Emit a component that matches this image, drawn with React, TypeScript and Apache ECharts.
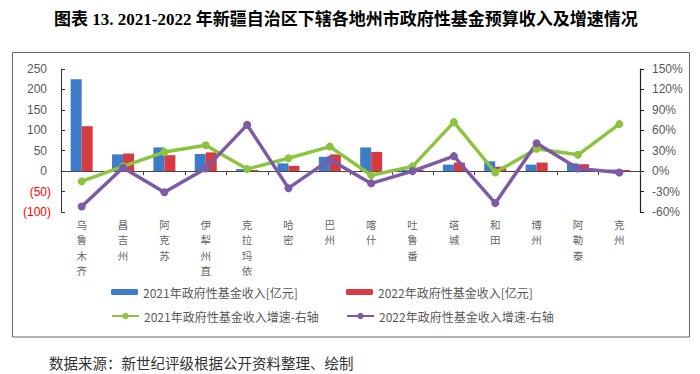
import React, { useEffect, useRef } from "react";
import * as echarts from "echarts";

const categories = ["乌鲁木齐", "昌吉州", "阿克苏", "伊犁州直", "克拉玛依", "哈密", "巴州", "喀什", "吐鲁番", "塔城", "和田", "博州", "阿勒泰", "克州"];
const income2021 = [225, 41, 58, 42, 5, 19, 35, 58, 3, 16, 24, 16, 19, 4];
const income2022 = [110, 43, 39, 46, 3, 13, 41, 47, 3, 21, 11, 21, 17, 3];
const growth2021 = [-15, 7, 28, 38, 3, 19, 36, -6, 7, 72, -2, 33, 24, 69];
const growth2022 = [-52, 5, -31, 4, 68, -25, 17, -18, 0, 22, -47, 41, 4, -2];
const leftTicks = { min: -100, max: 250, interval: 50 };
const rightTicks = { min: -60, max: 150, interval: 30 };

const names = {
  b21: "2021年政府性基金收入[亿元]",
  b22: "2022年政府性基金收入[亿元]",
  g21: "2021年政府性基金收入增速-右轴",
  g22: "2022年政府性基金收入增速-右轴",
};

const COLORS = { blue: "#3C7CC8", red: "#D93A40", green: "#8DC43F", purple: "#7D5AA6" };
const GRAY = "#595959";

export default function App() {
  const ref = useRef<HTMLDivElement>(null);
  useEffect(() => {
    if (!ref.current) return;
    const chart = echarts.init(ref.current, null, { renderer: "svg" });
    const legendBase = {
      selectedMode: false,
      itemWidth: 27,
      itemGap: 0,
      textStyle: { color: GRAY, fontSize: 12, fontFamily: "Noto Sans CJK SC" },
    };
    chart.setOption({
      animation: false,
      backgroundColor: "#fff",
      textStyle: { fontFamily: "Liberation Sans, Noto Sans CJK SC" },
      title: {
        text: "图表 13. 2021-2022 年新疆自治区下辖各地州市政府性基金预算收入及增速情况",
        left: 49,
        top: 6,
        textStyle: { fontSize: 17, fontWeight: "bold", color: "#000", fontFamily: "Liberation Serif, Noto Sans CJK SC" },
      },
      graphic: [
        {
          type: "rect",
          shape: { x: 12.5, y: 52.5, width: 677, height: 284.5 },
          style: { fill: "none", stroke: "#666", lineWidth: 1 },
          silent: true,
        },
        {
          type: "text",
          x: 49,
          y: 362,
          style: {
            text: "数据来源：新世纪评级根据公开资料整理、绘制",
            fontSize: 14.5,
            fill: "#333",
            fontFamily: "Noto Sans CJK SC",
            verticalAlign: "middle",
          },
        },
      ],
      legend: [
        { ...legendBase, data: [names.b21], left: 106, top: 281, itemHeight: 6 },
        { ...legendBase, data: [names.b22], left: 341, top: 281, itemHeight: 6 },
        { ...legendBase, data: [names.g21], left: 106, top: 305, itemHeight: 8 },
        { ...legendBase, data: [names.g22], left: 341, top: 305, itemHeight: 8 },
      ],
      grid: { left: 61, right: 60, top: 69, bottom: 162, containLabel: false },
      xAxis: [
        {
          type: "category",
          data: categories,
          position: "bottom",
          axisLine: { show: false, onZero: false },
          axisTick: { show: false },
          axisLabel: {
            interval: 0,
            margin: 5,
            color: "#666",
            fontSize: 10.5,
            lineHeight: 15.3,
            fontFamily: "Noto Sans CJK SC",
            formatter: (v: string) => v.split("").join("\n"),
          },
        },
        {
          type: "category",
          data: categories,
          position: "bottom",
          axisLine: { show: true, onZero: true, onZeroAxisIndex: 0, lineStyle: { color: "#444", width: 1 } },
          axisTick: { show: true, alignWithLabel: false, interval: 0, length: 4, lineStyle: { color: "#444" } },
          axisLabel: { show: false },
        },
      ],
      yAxis: [
        {
          type: "value",
          position: "left",
          ...leftTicks,
          axisLine: { show: true, lineStyle: { color: "#333", width: 1 } },
          axisTick: { show: true, inside: true, length: 4, lineStyle: { color: "#333" } },
          splitLine: { show: false },
          axisLabel: {
            margin: 10,
            fontSize: 12,
            formatter: (v: number) => (v < 0 ? `{neg|(${Math.abs(v)})}` : `{pos|${v}}`),
            rich: {
              pos: { color: GRAY, fontSize: 12, padding: [0, 4, 0, 0], fontFamily: "Liberation Sans" },
              neg: { color: "#FF0000", fontSize: 12, fontFamily: "Liberation Sans" },
            },
          },
        },
        {
          type: "value",
          position: "right",
          ...rightTicks,
          axisLine: { show: true, lineStyle: { color: "#222", width: 1.2 } },
          axisTick: { show: true, inside: false, length: 4, lineStyle: { color: "#222" } },
          splitLine: { show: false },
          axisLabel: { margin: 12, fontSize: 12, color: GRAY, formatter: "{value}%" },
        },
      ],
      series: [
        {
          name: names.b21,
          type: "bar",
          data: income2021,
          barWidth: 11,
          barGap: "0%",
          itemStyle: { color: COLORS.blue },
        },
        {
          name: names.b22,
          type: "bar",
          data: income2022,
          barWidth: 11,
          barGap: "0%",
          itemStyle: { color: COLORS.red },
        },
        {
          name: names.g21,
          type: "line",
          yAxisIndex: 1,
          data: growth2021,
          symbol: "circle",
          symbolSize: 8,
          lineStyle: { color: COLORS.green, width: 3.5 },
          itemStyle: { color: COLORS.green },
        },
        {
          name: names.g22,
          type: "line",
          yAxisIndex: 1,
          data: growth2022,
          symbol: "circle",
          symbolSize: 8,
          lineStyle: { color: COLORS.purple, width: 3.5 },
          itemStyle: { color: COLORS.purple },
        },
      ],
    });
    return () => chart.dispose();
  }, []);
  return (
    <div
      ref={ref}
      style={{ position: "fixed", left: 0, top: 0, width: 700, height: 374, background: "#fff" }}
    />
  );
}
